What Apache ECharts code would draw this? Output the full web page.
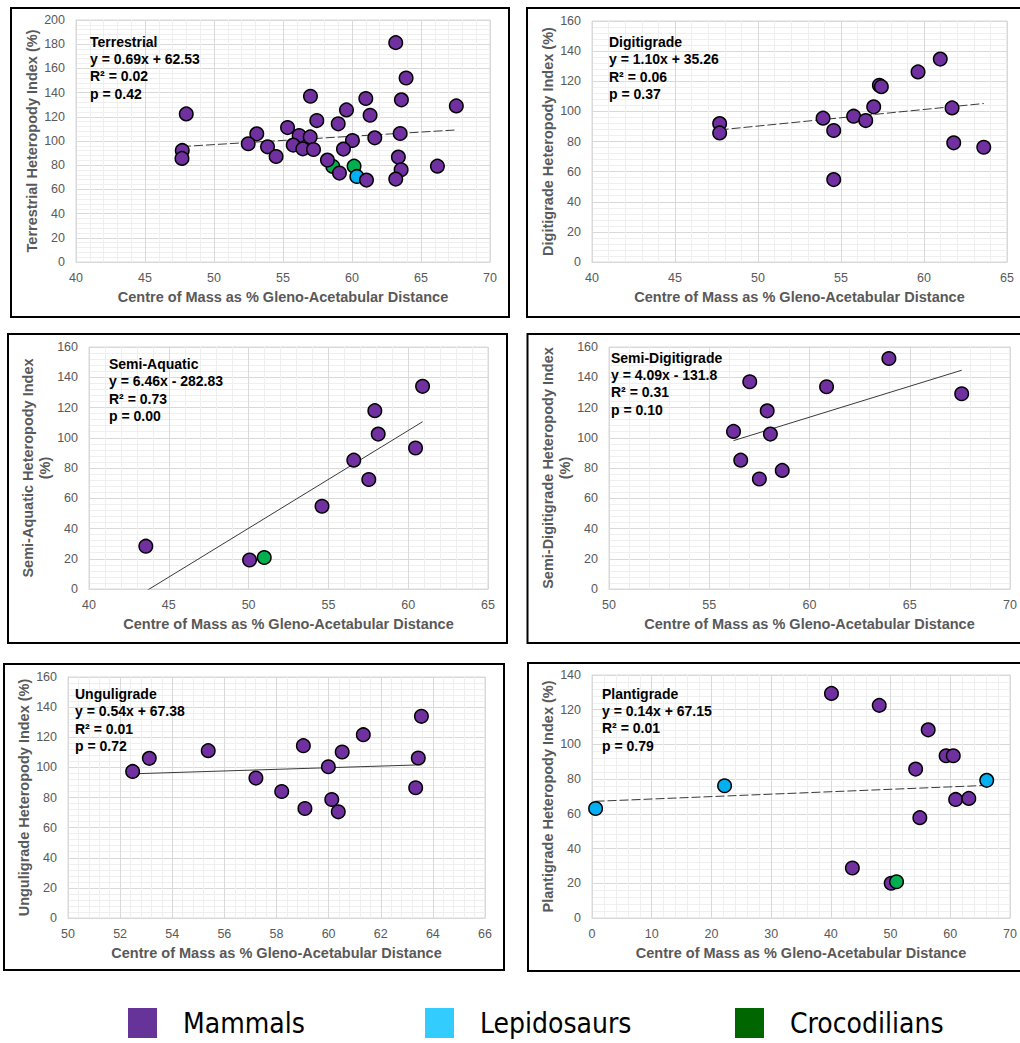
<!DOCTYPE html>
<html>
<head>
<meta charset="utf-8">
<title>Heteropody Index vs Centre of Mass</title>
<script src="https://cdn.jsdelivr.net/npm/echarts@6/dist/echarts.min.js"></script>
<style>
  html, body { margin: 0; padding: 0; background: #ffffff; }
  #chart { width: 1020px; height: 1043px; }
</style>
</head>
<body>
<div id="chart"></div>
<script>
// ---- Data: [centre of mass (% gleno-acetabular distance), heteropody index (%)] ----

// Terrestrial
const terrestrialMammals = [
  [63.17, 181.3], [63.92, 152.1], [56.99, 137.0], [61.00, 135.1], [63.58, 134.0],
  [67.56, 129.0], [47.99, 122.4], [59.60, 125.7], [61.31, 121.3], [57.45, 116.9],
  [59.00, 114.2], [55.33, 111.1], [53.10, 105.9], [56.17, 104.5], [56.97, 103.4],
  [63.49, 106.2], [61.65, 102.6], [60.03, 100.4], [52.48, 97.7], [55.74, 96.6],
  [53.88, 95.2], [56.44, 93.5], [57.21, 93.0], [59.38, 93.3], [47.70, 92.2],
  [47.68, 85.6], [54.50, 87.2], [58.22, 84.2], [63.36, 86.7], [66.19, 79.2],
  [63.56, 76.2], [59.09, 73.5], [61.05, 67.7], [63.17, 68.5]
];
const terrestrialLepidosaurs = [[60.35, 70.7]];
const terrestrialCrocodilians = [[58.61, 79.0], [60.15, 79.2]];
const terrestrialFit = [0.69, 62.53];
const terrestrialStats = [0.02, 0.42];
const terrestrialXTicks = [40, 45, 50, 55, 60, 65, 70];
const terrestrialYTicks = [0, 20, 40, 60, 80, 100, 120, 140, 160, 180, 200];

// Digitigrade
const digitigradeMammals = [
  [60.98, 134.7], [59.64, 126.2], [57.31, 117.3], [57.43, 116.4], [56.97, 103.0],
  [61.69, 102.3], [53.92, 95.5], [55.76, 96.8], [56.49, 93.9], [47.69, 91.9],
  [47.69, 85.7], [54.56, 87.3], [61.79, 79.1], [63.60, 76.2], [54.56, 54.7]
];
const digitigradeFit = [1.10, 35.26];
const digitigradeStats = [0.06, 0.37];
const digitigradeXTicks = [40, 45, 50, 55, 60, 65];
const digitigradeYTicks = [0, 20, 40, 60, 80, 100, 120, 140, 160];

// Semi-Aquatic
const semiAquaticMammals = [
  [60.90, 134.0], [57.91, 117.9], [58.12, 102.4], [60.46, 93.2], [56.59, 85.2],
  [57.53, 72.4], [54.60, 54.7], [43.56, 28.3], [50.06, 19.2]
];
const semiAquaticCrocodilians = [[50.98, 20.8]];
const semiAquaticFit = [6.46, -282.83];
const semiAquaticStats = [0.73, 0.00];
const semiAquaticXTicks = [40, 45, 50, 55, 60, 65];
const semiAquaticYTicks = [0, 20, 40, 60, 80, 100, 120, 140, 160];

// Semi-Digitigrade
const semiDigitigradeMammals = [
  [63.96, 152.4], [57.02, 137.0], [60.85, 133.7], [67.59, 129.1], [57.89, 117.8],
  [56.21, 104.2], [58.05, 102.4], [56.57, 85.2], [58.64, 78.4], [57.50, 72.7]
];
const semiDigitigradeFit = [4.09, -131.8];
const semiDigitigradeStats = [0.31, 0.10];
const semiDigitigradeXTicks = [50, 55, 60, 65, 70];
const semiDigitigradeYTicks = [0, 20, 40, 60, 80, 100, 120, 140, 160];

// Unguligrade
const unguligradeMammals = [
  [63.56, 133.9], [61.33, 121.7], [59.03, 114.4], [55.38, 111.1], [60.52, 110.2],
  [53.12, 106.0], [63.44, 106.2], [52.48, 97.3], [59.99, 100.4], [57.21, 92.9],
  [58.20, 84.0], [63.34, 86.5], [60.12, 78.7], [59.09, 72.7], [60.37, 70.5]
];
const unguligradeFit = [0.54, 67.38];
const unguligradeStats = [0.01, 0.72];
const unguligradeXTicks = [50, 52, 54, 56, 58, 60, 62, 64, 66];
const unguligradeYTicks = [0, 20, 40, 60, 80, 100, 120, 140, 160];

// Plantigrade
const plantigradeMammals = [
  [40.1, 129.4], [48.1, 122.5], [56.3, 108.4], [59.3, 93.5], [60.5, 93.5],
  [54.2, 85.8], [60.9, 68.3], [63.1, 68.9], [54.9, 57.8], [43.6, 28.8], [50.1, 20.0]
];
const plantigradeLepidosaurs = [[0.6, 63.1], [22.2, 76.2], [66.1, 79.3]];
const plantigradeCrocodilians = [[51.0, 20.9]];
const plantigradeFit = [0.14, 67.15];
const plantigradeStats = [0.01, 0.79];
const plantigradeXTicks = [0, 10, 20, 30, 40, 50, 60, 70];
const plantigradeYTicks = [0, 20, 40, 60, 80, 100, 120, 140];

// Group names
const groupNames = ['Mammals', 'Lepidosaurs', 'Crocodilians'];

// ---- Styling ----
const FONT = '"Liberation Sans", Arial, Helvetica, sans-serif';
const LEGEND_FONT = '"DejaVu Sans Condensed", "Liberation Sans", sans-serif';
const markerColor = { Mammals: '#7030A0', Lepidosaurs: '#00B0F0', Crocodilians: '#00B050' };
const legendColor = { Mammals: '#663399', Lepidosaurs: '#33CCFF', Crocodilians: '#006600' };
const X_TITLE = 'Centre of Mass as % Gleno-Acetabular Distance';

// Panel layout: plot area, frame and the fit annotation position
const panels = [
  {
    title: 'Terrestrial', yName: 'Terrestrial Heteropody Index (%)',
    groups: { Crocodilians: terrestrialCrocodilians, Lepidosaurs: terrestrialLepidosaurs, Mammals: terrestrialMammals },
    order: ['Crocodilians', 'Lepidosaurs', 'Mammals'],
    fit: terrestrialFit, stats: terrestrialStats, xTicks: terrestrialXTicks, yTicks: terrestrialYTicks,
    grid: { left: 76, top: 20, width: 414, height: 242 }, frame: [11, 8, 498, 309],
    note: [90, 33], dash: [9, 3]
  },
  {
    title: 'Digitigrade', yName: 'Digitigrade Heteropody Index (%)',
    groups: { Mammals: digitigradeMammals }, order: ['Mammals'],
    fit: digitigradeFit, stats: digitigradeStats, xTicks: digitigradeXTicks, yTicks: digitigradeYTicks,
    grid: { left: 592, top: 21, width: 415, height: 241 }, frame: [527, 8, 520, 309],
    note: [609, 33.5], dash: [9, 3]
  },
  {
    title: 'Semi-Aquatic', yName: 'Semi-Aquatic Heteropody Index\n(%)',
    groups: { Mammals: semiAquaticMammals, Crocodilians: semiAquaticCrocodilians },
    order: ['Mammals', 'Crocodilians'],
    fit: semiAquaticFit, stats: semiAquaticStats, xTicks: semiAquaticXTicks, yTicks: semiAquaticYTicks,
    grid: { left: 89, top: 347, width: 399, height: 242 }, frame: [8, 334, 499, 309],
    note: [109, 355.5], dash: 'solid'
  },
  {
    title: 'Semi-Digitigrade', yName: 'Semi-Digitigrade Heteropody Index\n(%)',
    groups: { Mammals: semiDigitigradeMammals }, order: ['Mammals'],
    fit: semiDigitigradeFit, stats: semiDigitigradeStats, xTicks: semiDigitigradeXTicks, yTicks: semiDigitigradeYTicks,
    grid: { left: 609, top: 347, width: 401, height: 242 }, frame: [527.5, 334, 520, 309],
    note: [611, 349], dash: 'solid'
  },
  {
    title: 'Unguligrade', yName: 'Unguligrade Heteropody Index (%)',
    groups: { Mammals: unguligradeMammals }, order: ['Mammals'],
    fit: unguligradeFit, stats: unguligradeStats, xTicks: unguligradeXTicks, yTicks: unguligradeYTicks,
    grid: { left: 68, top: 677, width: 417, height: 241 }, frame: [4, 664, 500, 306],
    note: [75, 685.5], dash: 'solid'
  },
  {
    title: 'Plantigrade', yName: 'Plantigrade Heteropody Index (%)',
    groups: { Mammals: plantigradeMammals, Lepidosaurs: plantigradeLepidosaurs, Crocodilians: plantigradeCrocodilians },
    order: ['Mammals', 'Lepidosaurs', 'Crocodilians'],
    fit: plantigradeFit, stats: plantigradeStats, xTicks: plantigradeXTicks, yTicks: plantigradeYTicks,
    grid: { left: 592, top: 675, width: 418, height: 243 }, frame: [528, 663, 520, 308],
    note: [602, 685], dash: [9, 3]
  }
];

function fmtEquation(fit) {
  const [m, b] = fit;
  return 'y = ' + m.toFixed(2) + 'x ' + (b < 0 ? '- ' : '+ ') + Math.abs(b);
}

function fitEnds(points, fit) {
  const xs = points.map(p => p[0]);
  const x0 = Math.min.apply(null, xs), x1 = Math.max.apply(null, xs);
  return [[x0, fit[0] * x0 + fit[1]], [x1, fit[0] * x1 + fit[1]]];
}

const grids = [], xAxes = [], yAxes = [], series = [], graphics = [];

panels.forEach((p, i) => {
  grids.push(Object.assign({ show: true, borderColor: '#d9d9d9', borderWidth: 1, backgroundColor: 'transparent', containLabel: false }, p.grid));

  const tickLabel = { color: '#595959', fontSize: 12.5, fontFamily: FONT };
  const titleStyle = { color: '#595959', fontSize: 14.5, fontWeight: 'bold', fontFamily: FONT, lineHeight: 17 };
  xAxes.push({
    type: 'value', gridIndex: i,
    min: p.xTicks[0], max: p.xTicks[p.xTicks.length - 1], interval: p.xTicks[1] - p.xTicks[0],
    name: X_TITLE, nameLocation: 'middle', nameGap: 26,
    nameTextStyle: titleStyle,
    axisLine: { show: true, lineStyle: { color: '#d9d9d9' } },
    axisTick: { show: false },
    axisLabel: Object.assign({ margin: 9 }, tickLabel),
    splitLine: { show: true, lineStyle: { color: '#d9d9d9', width: 1 } },
    minorTick: { show: false, splitNumber: 5 },
    minorSplitLine: { show: true, lineStyle: { color: '#efefef', width: 1 } }
  });
  yAxes.push({
    type: 'value', gridIndex: i,
    min: p.yTicks[0], max: p.yTicks[p.yTicks.length - 1], interval: p.yTicks[1] - p.yTicks[0],
    name: p.yName, nameLocation: 'middle', nameGap: 35,
    nameTextStyle: titleStyle,
    axisLine: { show: true, lineStyle: { color: '#d9d9d9' } },
    axisTick: { show: false },
    axisLabel: Object.assign({ margin: 11 }, tickLabel),
    splitLine: { show: true, lineStyle: { color: '#d9d9d9', width: 1 } },
    minorTick: { show: false, splitNumber: 5 },
    minorSplitLine: { show: true, lineStyle: { color: '#efefef', width: 1 } }
  });

  // regression line across the panel's data range
  const allPts = [].concat.apply([], p.order.map(g => p.groups[g]));
  series.push({
    type: 'line', xAxisIndex: i, yAxisIndex: i, silent: true, clip: true,
    data: fitEnds(allPts, p.fit), symbol: 'none',
    lineStyle: { color: '#3a3a3a', width: 1, type: p.dash },
    z: 2
  });

  p.order.forEach(g => {
    series.push({
      name: g, type: 'scatter', xAxisIndex: i, yAxisIndex: i,
      data: p.groups[g], symbol: 'circle', symbolSize: 13.5,
      itemStyle: { color: markerColor[g], borderColor: '#000000', borderWidth: 1.5, opacity: 1 },
      emphasis: { disabled: true },
      z: 3
    });
  });

  // fit annotation
  graphics.push({
    type: 'text', x: p.note[0], y: p.note[1], z: 10, silent: true,
    style: {
      text: p.title + '\n' + fmtEquation(p.fit) + '\nR\u00B2 = ' + p.stats[0].toFixed(2) + '\np = ' + p.stats[1].toFixed(2),
      fill: '#000000', fontSize: 14, fontWeight: 'bold', fontFamily: FONT, lineHeight: 17.3,
      verticalAlign: 'top', align: 'left'
    }
  });

  // panel frame
  const f = p.frame;
  graphics.push({
    type: 'rect', silent: true, z: 20,
    shape: { x: f[0], y: f[1], width: f[2], height: f[3] },
    style: { fill: 'none', stroke: '#000000', lineWidth: 2 }
  });
});

// one legend per group, placed along the bottom
const legendLeft = { Mammals: 128, Lepidosaurs: 425, Crocodilians: 735 };
const legends = groupNames.map(g => ({
  data: [{ name: g, icon: 'rect', itemStyle: { color: legendColor[g], borderWidth: 0 } }],
  left: legendLeft[g], top: 1008, orient: 'horizontal', padding: 0,
  itemWidth: 29, itemHeight: 30, selectedMode: false,
  textStyle: { fontSize: 28, color: '#000000', fontFamily: LEGEND_FONT, padding: [0, 0, 0, 21] }
}));

const chart = echarts.init(document.getElementById('chart'), null, { renderer: 'svg', width: 1020, height: 1043 });
chart.setOption({
  backgroundColor: '#ffffff',
  animation: false,
  textStyle: { fontFamily: FONT },
  grid: grids,
  xAxis: xAxes,
  yAxis: yAxes,
  legend: legends,
  series: series,
  graphic: graphics
});
</script>
</body>
</html>
